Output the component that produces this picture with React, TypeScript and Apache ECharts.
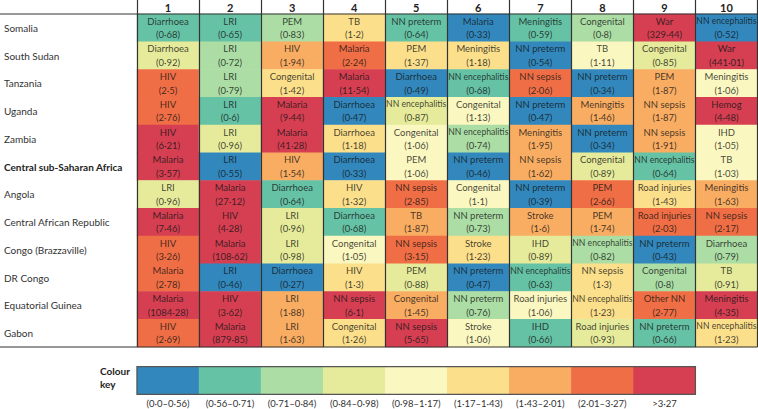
import React, { useEffect, useRef } from 'react';
import * as echarts from 'echarts';

const rankColumns = ['1', '2', '3', '4', '5', '6', '7', '8', '9', '10'];

const locations = [
  'Somalia',
  'South Sudan',
  'Tanzania',
  'Uganda',
  'Zambia',
  'Central sub-Saharan Africa',
  'Angola',
  'Central African Republic',
  'Congo (Brazzaville)',
  'DR Congo',
  'Equatorial Guinea',
  'Gabon',
];

const causes = [
  ['Diarrhoea', 'LRI', 'PEM', 'TB', 'NN preterm', 'Malaria', 'Meningitis', 'Congenital', 'War', 'NN encephalitis'],
  ['Diarrhoea', 'LRI', 'HIV', 'Malaria', 'PEM', 'Meningitis', 'NN preterm', 'TB', 'Congenital', 'War'],
  ['HIV', 'LRI', 'Congenital', 'Malaria', 'Diarrhoea', 'NN encephalitis', 'NN sepsis', 'NN preterm', 'PEM', 'Meningitis'],
  ['HIV', 'LRI', 'Malaria', 'Diarrhoea', 'NN encephalitis', 'Congenital', 'NN preterm', 'Meningitis', 'NN sepsis', 'Hemog'],
  ['HIV', 'LRI', 'Malaria', 'Diarrhoea', 'Congenital', 'NN encephalitis', 'Meningitis', 'NN preterm', 'NN sepsis', 'IHD'],
  ['Malaria', 'LRI', 'HIV', 'Diarrhoea', 'PEM', 'NN preterm', 'NN sepsis', 'Congenital', 'NN encephalitis', 'TB'],
  ['LRI', 'Malaria', 'Diarrhoea', 'HIV', 'NN sepsis', 'Congenital', 'NN preterm', 'PEM', 'Road injuries', 'Meningitis'],
  ['Malaria', 'HIV', 'LRI', 'Diarrhoea', 'TB', 'NN preterm', 'Stroke', 'PEM', 'Road injuries', 'NN sepsis'],
  ['HIV', 'Malaria', 'LRI', 'Congenital', 'NN sepsis', 'Stroke', 'IHD', 'NN encephalitis', 'NN preterm', 'Diarrhoea'],
  ['Malaria', 'LRI', 'Diarrhoea', 'HIV', 'PEM', 'NN preterm', 'NN encephalitis', 'NN sepsis', 'Congenital', 'TB'],
  ['Malaria', 'HIV', 'LRI', 'NN sepsis', 'Congenital', 'NN preterm', 'Road injuries', 'NN encephalitis', 'Other NN', 'Meningitis'],
  ['HIV', 'Malaria', 'LRI', 'Congenital', 'NN sepsis', 'Stroke', 'IHD', 'Road injuries', 'NN preterm', 'NN encephalitis'],
];

const ratios = [
  [0.68, 0.65, 0.83, 1.2, 0.64, 0.33, 0.59, 0.8, 329.44, 0.52],
  [0.92, 0.72, 1.94, 2.24, 1.37, 1.18, 0.54, 1.11, 0.85, 441.01],
  [2.5, 0.79, 1.42, 11.54, 0.49, 0.68, 2.06, 0.34, 1.87, 1.06],
  [2.76, 0.6, 9.44, 0.47, 0.87, 1.13, 0.47, 1.46, 1.87, 4.48],
  [6.21, 0.96, 41.28, 1.18, 1.06, 0.74, 1.95, 0.34, 1.91, 1.05],
  [3.57, 0.55, 1.54, 0.33, 1.06, 0.46, 1.62, 0.89, 0.64, 1.03],
  [0.96, 27.12, 0.64, 1.32, 2.85, 1.1, 0.39, 2.66, 1.43, 1.63],
  [7.46, 4.28, 0.96, 0.68, 1.87, 0.73, 1.6, 1.74, 2.03, 2.17],
  [3.26, 108.62, 0.98, 1.05, 3.15, 1.23, 0.89, 0.82, 0.43, 0.79],
  [2.78, 0.46, 0.27, 1.3, 0.88, 0.47, 0.63, 1.3, 0.8, 0.91],
  [1084.28, 3.62, 1.88, 6.1, 1.45, 0.76, 1.06, 1.23, 2.77, 4.35],
  [2.69, 879.85, 1.63, 1.26, 5.65, 1.06, 0.66, 0.93, 0.66, 1.23],
];

const binUpper = [0.56, 0.71, 0.84, 0.98, 1.17, 1.43, 2.01, 3.27];
const binColors = ['#3288bd', '#66c2a5', '#abdda4', '#e5eb9a', '#faf7c0', '#fbdf8b', '#f9ad62', '#f06e45', '#d63f52'];
const keyLabels = ['(0·0–0·56)', '(0·56–0·71)', '(0·71–0·84)', '(0·84–0·98)', '(0·98–1·17)', '(1·17–1·43)', '(1·43–2·01)', '(2·01–3·27)', '>3·27'];

const FONT = 'Lato, "Noto Sans", sans-serif';
const TEXT = '#333333';
const CELL_TEXT = 'rgba(20,20,20,0.8)';

function fmt(v: number): string {
  return String(v).replace('.', '·');
}

export default function App() {
  const ref = useRef<HTMLDivElement>(null);

  useEffect(() => {
    if (!ref.current) return;
    const chart = echarts.init(ref.current, null, { renderer: 'svg' });

    const cellData: any[] = [];
    locations.forEach((loc, r) => {
      rankColumns.forEach((c, k) => {
        cellData.push({ name: causes[r][k], value: [k, r, ratios[r][k]] });
      });
    });

    const keyData = keyLabels.map((l, i) => ({ name: l, value: [i, 0, i] }));

    const pieces: any[] = binColors.map((color, i) => {
      const p: any = { color };
      if (i > 0) p.gt = binUpper[i - 1];
      if (i < binUpper.length) p.lte = binUpper[i];
      return p;
    });
    const keyPieces = binColors.map((color, i) => ({ value: i, color }));

    const gridLeft = 137;
    const colW = 62.05;
    const mainTop = 14;
    const mainH = 333;
    const keyTop = 366.7;
    const keyH = 27.6;

    chart.setOption({
      animation: false,
      textStyle: { fontFamily: FONT },
      visualMap: [
        { type: 'piecewise', show: false, seriesIndex: 0, dimension: 2, pieces },
        { type: 'piecewise', show: false, seriesIndex: 1, dimension: 2, pieces: keyPieces },
      ],
      grid: [
        { left: gridLeft, top: mainTop, width: colW * 10, height: mainH, containLabel: false },
        { left: gridLeft, top: keyTop, width: colW * 9, height: keyH, containLabel: false },
      ],
      xAxis: [
        {
          type: 'category',
          gridIndex: 0,
          position: 'top',
          data: rankColumns,
          z: 10,
          axisLine: { show: false },
          axisTick: { show: true, interval: 0, length: 14, lineStyle: { color: TEXT, width: 1.2 } },
          axisLabel: {
            interval: 0,
            margin: 7,
            verticalAlign: 'middle',
            fontSize: 11,
            fontWeight: 'bold',
            color: '#222',
            fontFamily: FONT,
          },
          splitLine: { show: true, interval: 0, lineStyle: { color: TEXT, width: 1.2 } },
        },
        {
          type: 'category',
          gridIndex: 1,
          position: 'bottom',
          data: keyLabels,
          axisLine: { show: false },
          axisTick: { show: false },
          axisLabel: { interval: 0, margin: 4, fontSize: 9.5, color: TEXT, fontFamily: FONT },
          splitLine: { show: false },
        },
      ],
      yAxis: [
        {
          type: 'category',
          gridIndex: 0,
          data: locations,
          inverse: true,
          axisLine: { show: false },
          axisTick: { show: false },
          splitLine: { show: false },
          axisLabel: {
            interval: 0,
            align: 'left',
            margin: 133,
            fontSize: 10,
            color: TEXT,
            fontFamily: FONT,
            formatter: (v: string) =>
              v === 'Central sub-Saharan Africa' ? '{b|' + v + '}' : v,
            rich: {
              b: { fontWeight: 'bold', fontSize: 10, color: '#222', fontFamily: FONT },
            },
          },
        },
        {
          type: 'category',
          gridIndex: 1,
          data: [''],
          show: false,
        },
      ],
      series: [
        {
          type: 'heatmap',
          xAxisIndex: 0,
          yAxisIndex: 0,
          data: cellData,
          label: {
            show: true,
            formatter: (p: any) => {
              const nm = p.name as string;
              const st = nm.length > 13 ? 's' : 'n';
              return '{' + st + '|' + nm + '}\n{v|(' + fmt(p.value[2]) + ')}';
            },
            rich: {
              n: { fontSize: 9.5, lineHeight: 13.5, color: CELL_TEXT, fontFamily: FONT },
              s: { fontSize: 8.6, lineHeight: 13.5, color: CELL_TEXT, fontFamily: FONT },
              v: { fontSize: 9.5, lineHeight: 13.5, color: CELL_TEXT, fontFamily: FONT },
            },
          },
          emphasis: { disabled: true },
        },
        {
          type: 'heatmap',
          xAxisIndex: 1,
          yAxisIndex: 1,
          data: keyData,
          label: { show: false },
          emphasis: { disabled: true },
        },
      ],
      graphic: [
        {
          type: 'line',
          z: 100,
          shape: { x1: 0, y1: mainTop, x2: gridLeft + colW * 10, y2: mainTop },
          style: { stroke: TEXT, lineWidth: 1.2 },
        },
        {
          type: 'line',
          z: 100,
          shape: { x1: 0, y1: mainTop + mainH, x2: gridLeft + colW * 10, y2: mainTop + mainH },
          style: { stroke: TEXT, lineWidth: 1.2 },
        },
        {
          type: 'rect',
          z: 100,
          shape: { x: gridLeft, y: keyTop, width: colW * 9, height: keyH },
          style: { fill: 'none', stroke: '#555', lineWidth: 1.2 },
        },
        {
          type: 'text',
          z: 100,
          x: 100,
          y: 371,
          style: {
            text: 'Colour',
            fill: '#222',
            font: 'bold 10px ' + FONT,
            textAlign: 'left',
            textVerticalAlign: 'middle',
          },
        },
        {
          type: 'text',
          z: 100,
          x: 100,
          y: 383.5,
          style: {
            text: 'key',
            fill: '#222',
            font: 'bold 10px ' + FONT,
            textAlign: 'left',
            textVerticalAlign: 'middle',
          },
        },
      ],
    });

    return () => {
      chart.dispose();
    };
  }, []);

  return (
    <div
      ref={ref}
      style={{ position: 'fixed', left: 0, top: 0, width: 758, height: 409, background: '#fff' }}
    />
  );
}
